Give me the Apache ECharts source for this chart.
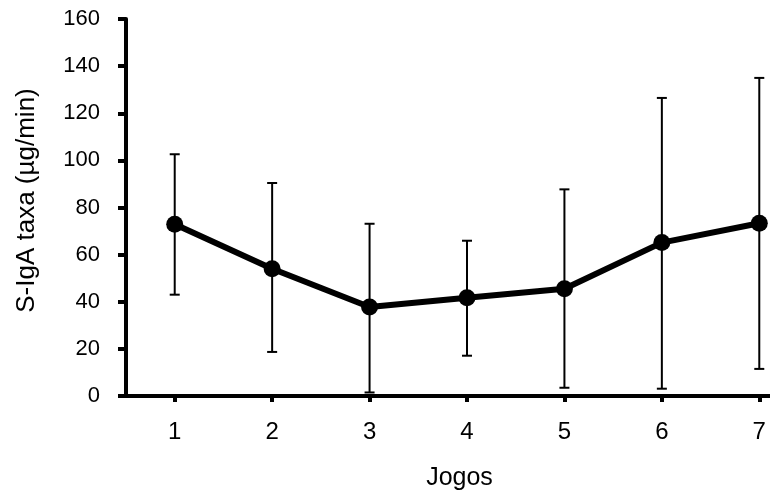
<!DOCTYPE html>
<html>
<head>
<meta charset="utf-8">
<script src="https://cdn.jsdelivr.net/npm/echarts@6/dist/echarts.min.js"></script>
<style>
html,body{margin:0;padding:0;background:#fff;}
#chart{width:770px;height:498px;}
</style>
</head>
<body>
<div id="chart"></div>
<script>
var categories = ['1', '2', '3', '4', '5', '6', '7'];
var means = [72.9, 54.0, 37.8, 41.7, 45.5, 65.1, 73.3];
var upper = [102.6, 90.4, 73.1, 65.9, 87.7, 126.5, 135.0];
var lower = [43.0, 18.7, 1.5, 17.1, 3.5, 3.1, 11.5];
var yTicks = { min: 0, max: 160, interval: 20 };
var xTitle = 'Jogos';
var yTitle = 'S-IgA taxa (µg/min)';

var FONT = '"Liberation Sans", Arial, sans-serif';
var chart = echarts.init(document.getElementById('chart'), null, { renderer: 'canvas' });

// category positions on a numeric axis (1..n); axis extends past the right edge like the reference
var catPos = categories.map(function (c, i) { return i + 1; });

function renderErr(params, api) {
  var x = api.value(0), lo = api.value(1), hi = api.value(2);
  var pt = api.coord([x, hi]);
  var pb = api.coord([x, lo]);
  var hw = 5;
  var st = { stroke: '#000', lineWidth: 2 };
  return {
    type: 'group',
    children: [
      { type: 'line', shape: { x1: pt[0], y1: pt[1], x2: pb[0], y2: pb[1] }, style: st },
      { type: 'line', shape: { x1: pt[0] - hw, y1: pt[1], x2: pt[0] + hw, y2: pt[1] }, style: st },
      { type: 'line', shape: { x1: pb[0] - hw, y1: pb[1], x2: pb[0] + hw, y2: pb[1] }, style: st }
    ]
  };
}

chart.setOption({
  backgroundColor: '#fff',
  animation: false,
  grid: { left: 126, right: 0, top: 19, bottom: 102, containLabel: false },
  xAxis: {
    type: 'value',
    min: 0.5,
    max: 7.11,
    name: xTitle,
    nameLocation: 'middle',
    nameGap: 70,
    nameTextStyle: { fontFamily: FONT, fontSize: 25, color: '#000', padding: [0, 0, 0, 23] },
    axisLine: { show: true, onZero: false, lineStyle: { color: '#000', width: 4 } },
    axisTick: { show: true, customValues: catPos, length: 6, lineStyle: { color: '#000', width: 4 } },
    axisLabel: {
      customValues: catPos,
      margin: 24,
      fontFamily: FONT, fontSize: 24, color: '#000',
      formatter: function (v) { return categories[Math.round(v) - 1]; }
    },
    splitLine: { show: false }
  },
  yAxis: {
    type: 'value',
    min: yTicks.min,
    max: yTicks.max,
    interval: yTicks.interval,
    name: yTitle,
    nameLocation: 'middle',
    nameGap: 86,
    nameTextStyle: { fontFamily: FONT, fontSize: 26, color: '#000', padding: [0, 0, 0, 14] },
    axisLine: { show: true, lineStyle: { color: '#000', width: 4 } },
    axisTick: { show: true, length: 8, lineStyle: { color: '#000', width: 4 } },
    axisLabel: { margin: 26, fontFamily: FONT, fontSize: 22, color: '#000' },
    splitLine: { show: false }
  },
  series: [
    {
      type: 'custom',
      renderItem: renderErr,
      clip: false,
      z: 2,
      encode: { x: 0, y: [1, 2] },
      data: catPos.map(function (x, i) { return [x, lower[i], upper[i]]; })
    },
    {
      type: 'line',
      data: catPos.map(function (x, i) { return [x, means[i]]; }),
      clip: false,
      z: 3,
      symbol: 'circle',
      symbolSize: 17,
      lineStyle: { color: '#000', width: 6 },
      itemStyle: { color: '#000' }
    }
  ]
});
</script>
</body>
</html>
